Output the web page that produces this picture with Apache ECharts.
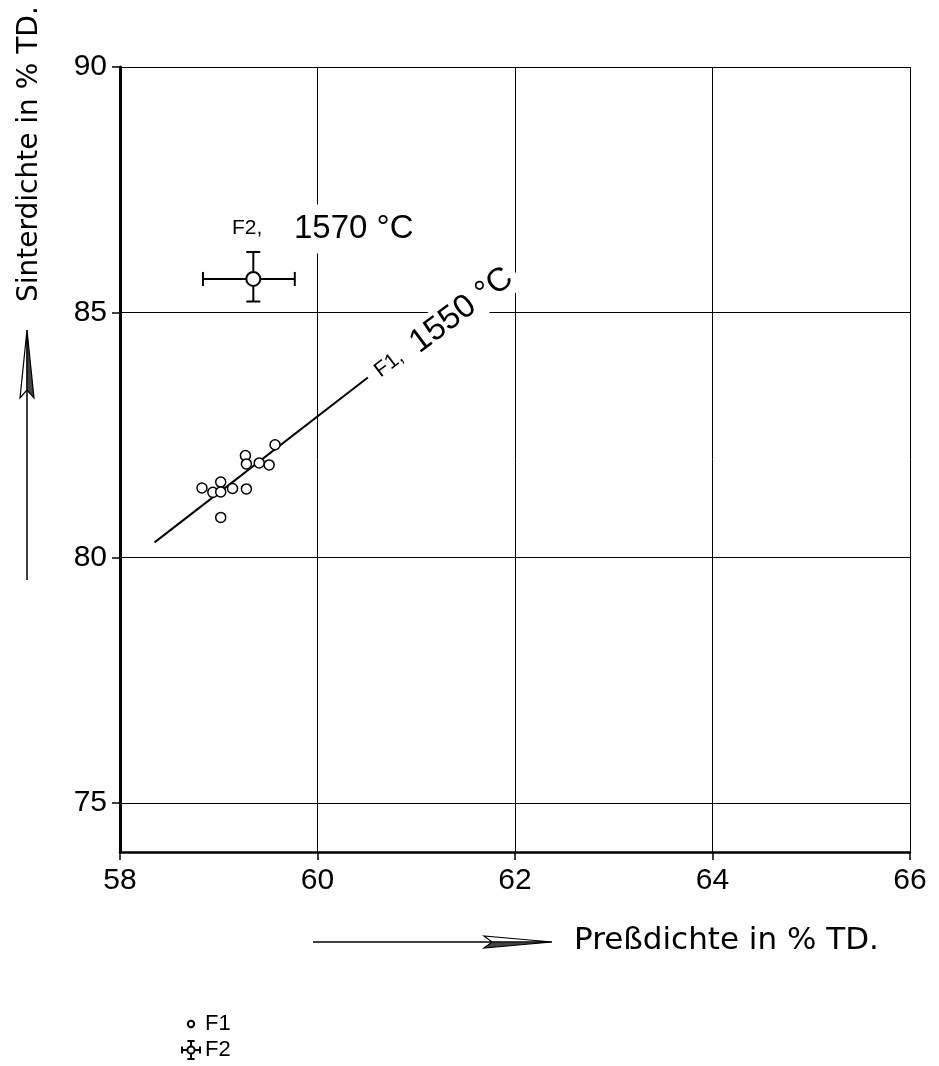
<!DOCTYPE html>
<html>
<head>
<meta charset="utf-8">
<script src="https://cdn.jsdelivr.net/npm/echarts@6/dist/echarts.min.js"></script>
<style>
html,body{margin:0;padding:0;background:#fff}
#main{width:939px;height:1066px}
</style>
</head>
<body>
<div id="main"></div>
<script>
// Preßdichte (x) / Sinterdichte (y), beide in % TD
var xTicks = [58, 60, 62, 64, 66];
var yTicks = [75, 80, 85, 90];
var f1Points = [
	[58.83, 81.42], [58.94, 81.33], [59.02, 81.54], [59.02, 81.34],
	[59.14, 81.41], [59.28, 81.40], [59.02, 80.82], [59.27, 82.08],
	[59.28, 81.91], [59.41, 81.93], [59.51, 81.89], [59.57, 82.30]
];
var f1Fit = [[58.35, 80.31], [60.51, 83.67]];
var f2Point = [59.35, 85.68];
var f2XRange = [58.84, 59.77];
var f2YRange = [85.22, 86.23];

var FONT = 'Liberation Sans';
var TFONT = 'DejaVu Sans';
var chart = echarts.init(document.getElementById('main'));

// Fehlerbalken-Symbol für F2
var f2Icon = 'path://M0,10 L6,10 M14,10 L20,10 M0,6 L0,14 M20,6 L20,14 M10,0 L10,6 M10,14 L10,20 M6,0 L14,0 M6,20 L14,20 M14,10 A4,4 0 1 1 6,10 A4,4 0 1 1 14,10 Z';
var f1Icon = 'path://M0,0 M20,20 M13.5,10 A3.5,3.5 0 1 1 6.5,10 A3.5,3.5 0 1 1 13.5,10 Z';

function arrowUp(x, yTop, yBottom) {
	return [
		{type: 'line', z: 100, shape: {x1: x, y1: yBottom, x2: x, y2: yTop + 40}, style: {stroke: '#000', lineWidth: 1.5}},
		{type: 'polygon', z: 100, shape: {points: [[x, yTop], [x - 7, yTop + 68], [x, yTop + 60]]}, style: {fill: '#fff', stroke: '#000', lineWidth: 1.2}},
		{type: 'polygon', z: 100, shape: {points: [[x, yTop], [x + 7, yTop + 68], [x, yTop + 60]]}, style: {fill: '#444', stroke: '#000', lineWidth: 1.2}}
	];
}
function arrowRight(y, xLeft, xRight) {
	return [
		{type: 'line', z: 100, shape: {x1: xLeft, y1: y, x2: xRight - 40, y2: y}, style: {stroke: '#000', lineWidth: 1.5}},
		{type: 'polygon', z: 100, shape: {points: [[xRight, y], [xRight - 68, y - 6], [xRight - 60, y]]}, style: {fill: '#fff', stroke: '#000', lineWidth: 1.2}},
		{type: 'polygon', z: 100, shape: {points: [[xRight, y], [xRight - 68, y + 6], [xRight - 60, y]]}, style: {fill: '#444', stroke: '#000', lineWidth: 1.2}}
	];
}

var rot = 37 * Math.PI / 180;
var graphics = [
	{type: 'text', z: 100, x: 30, y: 302, rotation: Math.PI / 2,
		style: {text: 'Sinterdichte in % TD.', fontFamily: TFONT, fontSize: 28, fill: '#000', textAlign: 'left', textVerticalAlign: 'middle'}},
	{type: 'text', z: 100, x: 574, y: 941,
		style: {text: 'Preßdichte in % TD.', fontFamily: TFONT, fontSize: 31, fill: '#000', textAlign: 'left', textVerticalAlign: 'middle'}},
	{type: 'text', z: 100, x: 232, y: 228,
		style: {text: 'F2,', fontFamily: FONT, fontSize: 21, fill: '#000', textAlign: 'left', textVerticalAlign: 'middle'}},
	{type: 'text', z: 100, x: 290, y: 229,
		style: {text: '1570 °C', fontFamily: FONT, fontSize: 33, fill: '#000', backgroundColor: '#fff', padding: [8, 4], textAlign: 'left', textVerticalAlign: 'middle'}},
	{type: 'text', z: 100, x: 377, y: 373, rotation: rot,
		style: {text: 'F1,', fontFamily: FONT, fontSize: 21, fill: '#000', textAlign: 'left', textVerticalAlign: 'middle'}},
	{type: 'text', z: 100, x: 409, y: 350, rotation: rot,
		style: {text: '1550 °C', fontFamily: FONT, fontSize: 33, fill: '#000', backgroundColor: '#fff', padding: [2, 6], textAlign: 'left', textVerticalAlign: 'middle'}}
].concat(arrowUp(27, 330, 580)).concat(arrowRight(942, 313, 552));

var option = {
	animation: false,
	backgroundColor: '#fff',
	grid: {left: 120, right: 29, top: 67, bottom: 214, containLabel: false},
	xAxis: {
		type: 'value', min: 58, max: 66, interval: 2,
		axisLine: {show: true, onZero: false, lineStyle: {color: '#000', width: 2.5}},
		axisTick: {show: true, inside: false, length: 8, lineStyle: {color: '#000', width: 1.5}},
		axisLabel: {margin: 14, color: '#000', fontFamily: FONT, fontSize: 30,
			formatter: function (v) { return xTicks.indexOf(v) >= 0 ? v : ''; }},
		splitLine: {show: true, lineStyle: {color: '#000', width: 1}}
	},
	yAxis: {
		type: 'value', min: 74, max: 90,
		axisLine: {show: true, onZero: false, lineStyle: {color: '#000', width: 3}},
		axisTick: {show: true, length: 8, customValues: yTicks, lineStyle: {color: '#000', width: 1.5}},
		axisLabel: {margin: 13, color: '#000', fontFamily: FONT, fontSize: 30, customValues: yTicks},
		splitLine: {show: false}
	},
	legend: {
		orient: 'vertical', left: 176, top: 1008, itemWidth: 18, itemHeight: 18, itemGap: 4,
		textStyle: {fontFamily: FONT, fontSize: 22, color: '#000'},
		data: [{name: 'F1', icon: f1Icon}, {name: 'F2', icon: f2Icon}]
	},
	graphic: graphics,
	series: [
		{
			name: 'F1 Ausgleich', type: 'line', data: f1Fit, showSymbol: false, symbol: 'none',
			lineStyle: {color: '#000', width: 2}, silent: true, z: 3,
			markLine: {
				silent: true, symbol: 'none', label: {show: false},
				lineStyle: {color: '#000', width: 1, type: 'solid'},
				data: yTicks.map(function (v) { return {yAxis: v}; })
			}
		},
		{
			name: 'F1', type: 'scatter', data: f1Points, symbol: 'circle', symbolSize: 10, z: 4,
			itemStyle: {color: '#fff', borderColor: '#000', borderWidth: 1.5, opacity: 1}
		},
		{
			name: 'F2', type: 'custom', z: 5,
			data: [[f2Point[0], f2Point[1], f2XRange[0], f2XRange[1], f2YRange[0], f2YRange[1]]],
			encode: {x: 0, y: 1},
			itemStyle: {color: '#fff', borderColor: '#000', borderWidth: 1.5},
			renderItem: function (params, api) {
				var c = api.coord([api.value(0), api.value(1)]);
				var l = api.coord([api.value(2), api.value(1)]);
				var r = api.coord([api.value(3), api.value(1)]);
				var b = api.coord([api.value(0), api.value(4)]);
				var t = api.coord([api.value(0), api.value(5)]);
				var rad = 7, cap = 7;
				var st = {stroke: '#000', lineWidth: 2};
				return {type: 'group', children: [
					{type: 'line', shape: {x1: l[0], y1: c[1], x2: r[0], y2: c[1]}, style: st},
					{type: 'line', shape: {x1: c[0], y1: t[1], x2: c[0], y2: b[1]}, style: st},
					{type: 'line', shape: {x1: l[0], y1: c[1] - cap, x2: l[0], y2: c[1] + cap}, style: st},
					{type: 'line', shape: {x1: r[0], y1: c[1] - cap, x2: r[0], y2: c[1] + cap}, style: st},
					{type: 'line', shape: {x1: c[0] - cap, y1: t[1], x2: c[0] + cap, y2: t[1]}, style: st},
					{type: 'line', shape: {x1: c[0] - cap, y1: b[1], x2: c[0] + cap, y2: b[1]}, style: st},
					{type: 'circle', shape: {cx: c[0], cy: c[1], r: rad}, style: {fill: '#fff', stroke: '#000', lineWidth: 2}}
				]};
			}
		}
	]
};
chart.setOption(option);
</script>
</body>
</html>
